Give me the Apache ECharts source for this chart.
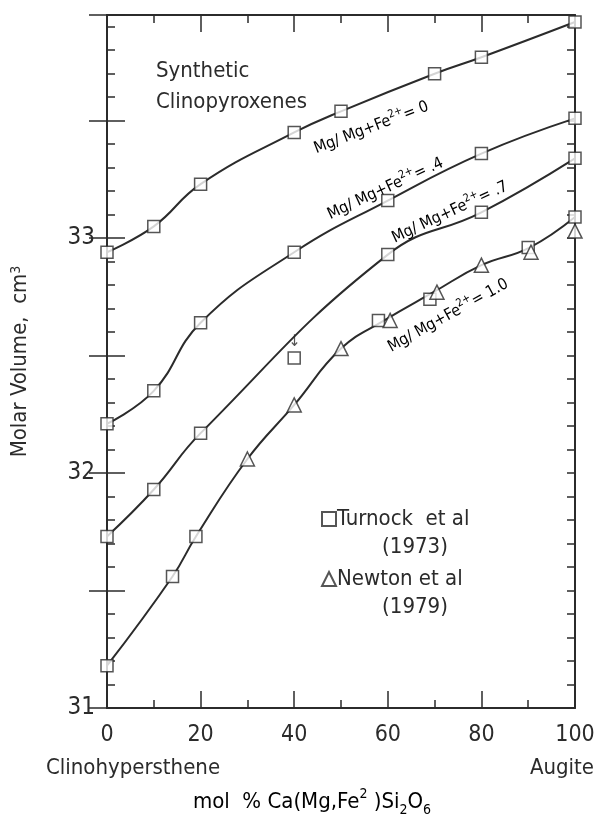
<!DOCTYPE html>
<html><head><meta charset="utf-8">
<script src="https://cdn.jsdelivr.net/npm/echarts@6/dist/echarts.min.js"></script>
<style>html,body{margin:0;padding:0;background:#fff}#c{width:602px;height:828px}</style>
</head><body><div id="c"></div>
<script>
const FONT = "'Liberation Sans Narrow','DejaVu Sans Condensed','Roboto Condensed','DejaVu Sans',sans-serif";
const INK = '#2b2b2b';

// ---- data ----
const xTickValues = [0, 20, 40, 60, 80, 100];
const yTickLabels = [31, 32, 33];

// Turnock et al (1973) squares, Mg/(Mg+Fe2+) = 0
const turnock00X = [0, 10, 20, 40, 50, 70, 80, 100];
const turnock00Y = [32.94, 33.05, 33.23, 33.45, 33.54, 33.70, 33.77, 33.92];
// = .4
const turnock04X = [0, 10, 20, 40, 60, 80, 100];
const turnock04Y = [32.21, 32.35, 32.64, 32.94, 33.16, 33.36, 33.51];
// = .7
const turnock07X = [0, 10, 20, 60, 80, 100];
const turnock07Y = [31.73, 31.93, 32.17, 32.93, 33.11, 33.34];
// flagged point (arrow), off the .7 curve
const turnockFlagX = [40];
const turnockFlagY = [32.49];
// = 1.0
const turnock10X = [0, 14, 19, 58, 69, 90, 100];
const turnock10Y = [31.18, 31.56, 31.73, 32.65, 32.74, 32.96, 33.09];
// Newton et al (1979) triangles, = 1.0
const newton10X = [30, 40, 50, 60.5, 70.5, 80, 90.6, 100];
const newton10Y = [32.06, 32.29, 32.53, 32.65, 32.77, 32.885, 32.94, 33.03];

const ratioTexts = ['0', '.4', '.7', '1.0'];

// ---- build ----
const zip = (xs, ys) => xs.map((x, i) => [x, ys[i]]);
const squares = [].concat(zip(turnock00X, turnock00Y), zip(turnock04X, turnock04Y),
  zip(turnock07X, turnock07Y), zip(turnock10X, turnock10Y));
const triangles = zip(newton10X, newton10Y);

// curve for 1.0 through both data sets; neighbouring square/triangle pairs are merged
const merged = zip(turnock10X, turnock10Y).concat(triangles).sort((a, b) => a[0] - b[0]);
const curve10 = [];
merged.forEach(p => {
  const last = curve10[curve10.length - 1];
  if (last && Math.abs(last[0] - p[0]) < 2.6) {
    curve10[curve10.length - 1] = [(last[0] + p[0]) / 2, Math.max(last[1], p[1])];
  } else {
    curve10.push(p.slice());
  }
});

const curves = [zip(turnock00X, turnock00Y), zip(turnock04X, turnock04Y),
  zip(turnock07X, turnock07Y), curve10];

const chart = echarts.init(document.getElementById('c'), null, {renderer: 'canvas'});

const axisLineStyle = {show: true, lineStyle: {color: INK, width: 2}};
const yBase = {type: 'value', min: 31, max: 33.95, splitLine: {show: false}, axisLine: axisLineStyle};
const xBase = {type: 'value', min: 0, max: 100, interval: 20, splitLine: {show: false}, axisLine: axisLineStyle,
  axisTick: {inside: true, length: 17, lineStyle: {color: INK, width: 1.5}},
  minorTick: {show: true, splitNumber: 2, length: 8, lineStyle: {color: INK, width: 1.5}}};

const option = {
  backgroundColor: '#fff',
  animation: false,
  textStyle: {fontFamily: FONT, color: INK},
  grid: {left: 107, right: 27, top: 15, bottom: 120},
  xAxis: [
    Object.assign({}, xBase, {position: 'bottom',
      axisLabel: {fontSize: 23, margin: 16, color: INK, fontFamily: FONT,
        formatter: v => xTickValues.includes(v) ? String(v) : ''}}),
    Object.assign({}, xBase, {position: 'top', axisLabel: {show: false}})
  ],
  yAxis: [
    Object.assign({}, yBase, {position: 'left', interval: 0.5,
      axisTick: {inside: true, length: 18, lineStyle: {color: INK, width: 1.5}},
      axisLabel: {fontSize: 24, margin: 12, color: INK, fontFamily: FONT,
        formatter: v => yTickLabels.some(t => Math.abs(t - v) < 1e-6) ? String(Math.round(v)) : ''},
      name: 'Molar Volume,  cm{sup|3}', nameLocation: 'middle', nameGap: 76,
      nameTextStyle: {fontSize: 22, color: INK, fontFamily: FONT,
        rich: {sup: {fontSize: 14, verticalAlign: 'top', lineHeight: 12, fontFamily: FONT, color: INK}}}}),
    Object.assign({}, yBase, {position: 'right', interval: 0.5,
      axisTick: {inside: true, length: 18, lineStyle: {color: INK, width: 1.5}}, axisLabel: {show: false}}),
    Object.assign({}, yBase, {position: 'left', interval: 0.1,
      axisTick: {inside: true, length: 8, lineStyle: {color: INK, width: 1.5}}, axisLabel: {show: false}}),
    Object.assign({}, yBase, {position: 'right', interval: 0.1,
      axisTick: {inside: true, length: 8, lineStyle: {color: INK, width: 1.5}}, axisLabel: {show: false}})
  ],
  legend: {
    orient: 'vertical', left: 316, top: 503, itemGap: 38, itemWidth: 14, itemHeight: 14,
    data: ['Turnock  et al', 'Newton et al'],
    textStyle: {fontSize: 22, color: INK, fontFamily: FONT, padding: [0, 0, 0, -4]}
  },
  series: curves.map((c, i) => ({
    type: 'line', name: 'curve' + i, data: c, showSymbol: false, smooth: 0.45,
    lineStyle: {color: INK, width: 2}, z: 2, silent: true
  })).concat([
    {type: 'scatter', name: 'Turnock  et al', data: squares, symbol: 'rect', symbolSize: 12,
      itemStyle: {color: '#fff', borderColor: INK, borderWidth: 1.5}, z: 5},
    {type: 'scatter', name: 'Turnock flagged', data: zip(turnockFlagX, turnockFlagY), symbol: 'rect', symbolSize: 12,
      itemStyle: {color: '#fff', borderColor: INK, borderWidth: 1.5}, z: 5,
      label: {show: true, position: 'top', distance: 1, formatter: '↓', fontSize: 16, color: INK}},
    {type: 'scatter', name: 'Newton et al', data: triangles, symbol: 'triangle', symbolSize: 14,
      itemStyle: {color: '#fff', borderColor: INK, borderWidth: 1.5}, z: 5}
  ])
};
chart.setOption(option);

const px = (x, y) => chart.convertToPixel({xAxisIndex: 0, yAxisIndex: 0}, [x, y]);
const curveLabels = [
  {at: [56.5, 33.47], angle: 21},
  {at: [59.5, 33.21], angle: 25},
  {at: [73.3, 33.11], angle: 25},
  {at: [72.9, 32.67], angle: 29}
];
const richLabel = {
  t: {fontSize: 16, fontFamily: FONT, color: INK, lineHeight: 22},
  s: {fontSize: 11, fontFamily: FONT, color: INK, verticalAlign: 'top', lineHeight: 10}
};
const graphics = curveLabels.map((c, i) => {
  const p = px(c.at[0], c.at[1]);
  return {type: 'text', x: p[0], y: p[1], rotation: c.angle * Math.PI / 180, z: 10,
    style: {text: '{t|Mg/ Mg+Fe}{s|2+}{t|= ' + ratioTexts[i] + '}', rich: richLabel,
      align: 'center', verticalAlign: 'middle'}};
});
const p0 = px(0, 31), p100 = px(100, 31);
graphics.push(
  {type: 'text', left: 156, top: 56, z: 10,
    style: {text: 'Synthetic\nClinopyroxenes', fontSize: 22, lineHeight: 31, fontFamily: FONT, fill: INK}},
  {type: 'text', x: 415, y: 547, z: 10,
    style: {text: '(1973)', fontSize: 22, fontFamily: FONT, fill: INK, align: 'center', verticalAlign: 'middle'}},
  {type: 'text', x: 415, y: 607, z: 10,
    style: {text: '(1979)', fontSize: 22, fontFamily: FONT, fill: INK, align: 'center', verticalAlign: 'middle'}},
  {type: 'text', x: p0[0] + 26, y: p0[1] + 60, z: 10,
    style: {text: 'Clinohypersthene', fontSize: 22, fontFamily: FONT, fill: INK, align: 'center', verticalAlign: 'middle'}},
  {type: 'text', x: p100[0] + 19, y: p100[1] + 60, z: 10,
    style: {text: 'Augite', fontSize: 22, fontFamily: FONT, fill: INK, align: 'right', verticalAlign: 'middle'}},
  {type: 'text', x: 312, y: 802, z: 10,
    style: {text: '{t|mol  % Ca(Mg,Fe}{u|2}{t| )Si}{d|2}{t|O}{d|6}', align: 'center', verticalAlign: 'middle',
      rich: {
        t: {fontSize: 22, fontFamily: FONT, color: INK, lineHeight: 30},
        u: {fontSize: 14, fontFamily: FONT, color: INK, verticalAlign: 'top', lineHeight: 12},
        d: {fontSize: 14, fontFamily: FONT, color: INK, verticalAlign: 'bottom', lineHeight: 12}
      }}}
);
chart.setOption({graphic: graphics});
</script></body></html>
